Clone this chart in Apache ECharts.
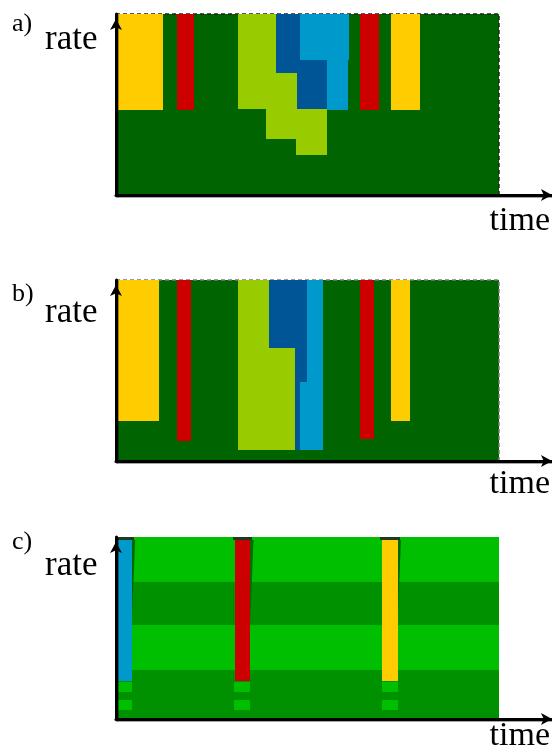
<!DOCTYPE html>
<html><head><meta charset="utf-8">
<script src="https://cdn.jsdelivr.net/npm/echarts@6/dist/echarts.min.js"></script>
<style>html,body{margin:0;padding:0;background:#fff}#c{width:552px;height:749px}</style>
</head><body><div id="c"></div>
<script>
// Each rectangle: [timeStart, timeEnd, rateLow, rateHigh]  (time 0..100 = plotted window, rate 0..100)
const panelLabels = ['a)', 'b)', 'c)'];
const yLabel = 'rate';
const xLabel = 'time';

const fullWindow = [[0, 100, 0, 100]];

// panel a
const aYellow = [[0, 12.3, 47.1, 100], [71.8, 79.4, 47.1, 100]];
const aRed    = [[15.9, 20.3, 47.1, 100], [63.6, 68.7, 47.1, 100]];
const aLime   = [[31.9, 41.8, 67.6, 100], [31.9, 47.3, 47.3, 67.6], [39.2, 55.1, 31.1, 47.3], [47.0, 55.1, 22.1, 31.1]];
const aNavy   = [[41.8, 48.0, 67.6, 100], [47.3, 55.1, 47.3, 74.6]];
const aCyan   = [[48.0, 60.8, 74.6, 100], [55.1, 60.6, 47.1, 74.6]];

// panel b
const bYellow = [[0, 11.3, 22.1, 100], [71.8, 76.8, 22.1, 100]];
const bRed    = [[15.9, 19.6, 11.0, 100], [63.6, 67.3, 12.2, 100]];
const bLime   = [[31.9, 39.9, 62.4, 100], [31.9, 46.7, 6.1, 62.4]];
const bNavy   = [[39.9, 49.9, 62.4, 100], [46.7, 49.9, 43.5, 62.4], [46.7, 48.0, 6.1, 43.5]];
const bCyan   = [[49.9, 54.0, 6.1, 100], [48.0, 49.9, 6.1, 43.5]];

// panel c
const cLightBands = [[0, 100, 75.4, 100], [0, 100, 27.1, 51.6]];
const cDarkBands  = [[0, 100, 51.6, 75.4], [0, 100, 0, 27.1]];
const cShadows = [[4.1, 5.0, 51.6, 98.4], [35.0, 35.9, 51.6, 98.4], [73.5, 74.4, 51.6, 98.4]];
const cCaps    = [[-0.3, 4.6, 98.4, 100], [30.6, 35.6, 98.4, 100], [69.0, 74.2, 98.4, 100]];
const cBlue    = [[0.2, 4.1, 20.9, 98.4]];
const cRed     = [[31.1, 35.0, 20.9, 98.4]];
const cYellow  = [[69.5, 73.5, 20.9, 98.4]];
const cSquares = [[0, 4.2, 15.0, 20.5], [0, 4.2, 4.9, 10.4],
                  [30.8, 35.0, 15.0, 20.5], [30.8, 35.0, 4.9, 10.4],
                  [69.5, 73.6, 15.0, 20.5], [69.5, 73.6, 4.9, 10.4]];

const C = {
  bg: '#006400', yellow: '#FFCC00', red: '#CC0000', lime: '#99CC00',
  navy: '#005596', cyan: '#0099CC', light: '#00BE00', dark: '#009100', shadow: '#006A00', cap: '#1E3A1E'
};

const R = Math.round;
function box(api) {
  const p0 = api.coord([api.value(0), api.value(3)]);
  const p1 = api.coord([api.value(1), api.value(2)]);
  const x0 = R(p0[0]), y0 = R(p0[1]), x1 = R(p1[0]), y1 = R(p1[1]);
  return { x: x0, y: y0, width: x1 - x0, height: y1 - y0 };
}
function rectItem(params, api) {
  return { type: 'rect', shape: box(api), style: { fill: api.visual('color') } };
}
function triItem(params, api) {
  const a = api.coord([api.value(0), api.value(3)]);
  const b = api.coord([api.value(1), api.value(3)]);
  const c = api.coord([api.value(0), api.value(2)]);
  return { type: 'polygon', shape: { points: [a, b, c] }, style: { fill: api.visual('color') } };
}
function bgItem(dashColor) {
  return function (params, api) {
    const b = box(api);
    return { type: 'group', children: [
      { type: 'rect', shape: b, style: { fill: api.visual('color') } },
      { type: 'polyline', shape: { points: [[b.x, b.y], [b.x + b.width, b.y], [b.x + b.width, b.y + b.height]] },
        style: { stroke: dashColor, lineWidth: 1.5, lineDash: [4, 3], fill: null } }
    ] };
  };
}
function ser(idx, data, color, fn) {
  return { type: 'custom', xAxisIndex: idx, yAxisIndex: idx, data: data, renderItem: fn || rectItem,
           itemStyle: { color: color }, silent: true, animation: false };
}

const grids = [
  { left: 116, top: 14, width: 436, height: 181 },
  { left: 116, top: 280, width: 436, height: 181 },
  { left: 116, top: 537, width: 436, height: 182 }
];
const axisLine = (offset) => ({ show: true, symbol: ['none', 'arrow'], symbolSize: [9, 11], symbolOffset: [0, offset],
  lineStyle: { color: '#000', width: 3, shadowColor: 'rgba(0,0,0,0.35)', shadowOffsetX: 1, shadowOffsetY: 1 } });
const xAxes = grids.map((g, i) => ({ type: 'value', gridIndex: i, min: 0, max: 113.84, z: 10,
  axisLine: axisLine(0), axisTick: { show: false }, axisLabel: { show: false }, splitLine: { show: false } }));
const yAxes = grids.map((g, i) => ({ type: 'value', gridIndex: i, min: 0, max: 100, z: 10,
  axisLine: axisLine(-5), axisTick: { show: false }, axisLabel: { show: false }, splitLine: { show: false } }));

const series = [
  ser(0, fullWindow, C.bg, bgItem('#222')),
  ser(0, aLime, C.lime), ser(0, aNavy, C.navy), ser(0, aCyan, C.cyan), ser(0, aYellow, C.yellow), ser(0, aRed, C.red),
  ser(1, fullWindow, C.bg, bgItem('#7a7a7a')),
  ser(1, bLime, C.lime), ser(1, bNavy, C.navy), ser(1, bCyan, C.cyan), ser(1, bYellow, C.yellow), ser(1, bRed, C.red),
  ser(2, cLightBands, C.light), ser(2, cDarkBands, C.dark), ser(2, cShadows, C.shadow, triItem), ser(2, cCaps, C.cap),
  ser(2, cSquares, C.light), ser(2, cBlue, C.cyan), ser(2, cRed, C.red), ser(2, cYellow, C.yellow)
];

const serif = '"Liberation Serif", "DejaVu Serif", serif';
const txt = (s, x, y, size, align) => ({ type: 'text', x: x, y: y, z: 100,
  style: { text: s, font: size + 'px ' + serif, fill: '#000', align: align || 'left', verticalAlign: 'middle' } });
const graphic = [
  txt(panelLabels[0], 12, 24, 26), txt(yLabel, 45, 40, 35), txt(xLabel, 550, 221, 34, 'right'),
  txt(panelLabels[1], 12, 294, 26), txt(yLabel, 45, 313, 35), txt(xLabel, 550, 484, 34, 'right'),
  txt(panelLabels[2], 12, 542, 26), txt(yLabel, 45, 566, 35), txt(xLabel, 550, 736, 34, 'right')
];

const chart = echarts.init(document.getElementById('c'), null, { renderer: 'canvas' });
chart.setOption({ animation: false, grid: grids, xAxis: xAxes, yAxis: yAxes, series: series, graphic: graphic });
</script></body></html>
